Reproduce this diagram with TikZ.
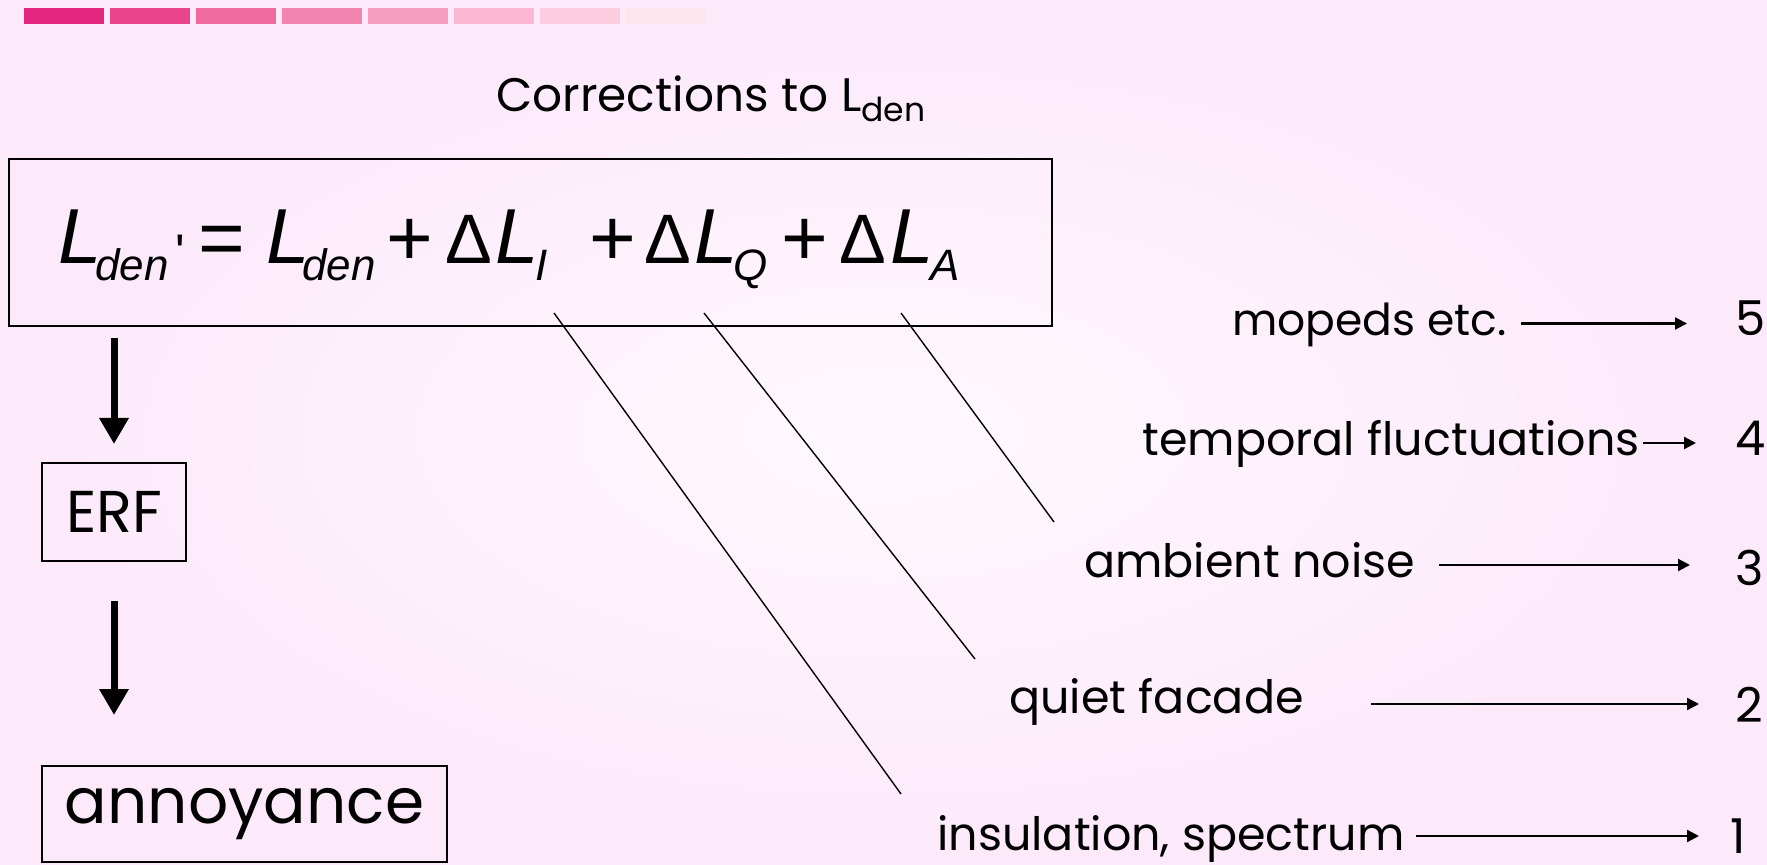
\documentclass[tikz,border=0pt]{standalone}
\usepackage{fontspec}
\setmainfont{Poppins}
\newfontfamily\eqf[Ligatures=TeXOff]{Liberation Sans}
\usetikzlibrary{arrows.meta}
\definecolor{bgin}{HTML}{FFF9FE}
\definecolor{bgout}{HTML}{FCE9FA}
\definecolor{bar1}{HTML}{E52680}
\definecolor{bar2}{HTML}{E9458B}
\definecolor{bar3}{HTML}{EE6A9F}
\definecolor{bar4}{HTML}{F285AF}
\definecolor{bar5}{HTML}{F59EBE}
\definecolor{bar6}{HTML}{F9B7D1}
\definecolor{bar7}{HTML}{FCCCE0}
\definecolor{bar8}{HTML}{FEE6EF}
\newcommand\pc[2]{\makebox[#1pt][l]{#2}}
\newcommand\sbs[1]{\raisebox{-8.5pt}{\fontsize{22}{24}\selectfont\itshape #1}}
\newcommand\op[1]{\raisebox{-0.8pt}{\fontsize{40}{44}\selectfont #1}}
\newcommand\dl{{\fontsize{35}{40}\selectfont Δ}}
\begin{document}
\begin{tikzpicture}[x=0.5pt,y=-0.5pt,
  box/.style={draw, line width=1pt, inner sep=0pt},
  bigarrow/.style={line width=3.5pt, -{Triangle[length=13pt,width=14pt]}},
  sarrow/.style={line width=1.1pt, -{Triangle[length=6pt,width=6pt]}},
  link/.style={line width=0.7pt},
  lab/.style={anchor=base west, inner sep=0pt, font=\fontsize{23}{26}\selectfont},
  num/.style={anchor=base west, inner sep=0pt, font=\fontsize{24}{28}\selectfont}]
\useasboundingbox (0,0) rectangle (1767,865);
\shade[inner color=bgin, outer color=bgout] (0,0) rectangle (1767,865);
% top bar
\foreach \i/\c in {0/bar1,1/bar2,2/bar3,3/bar4,4/bar5,5/bar6,6/bar7,7/bar8}
  \fill[\c] ({24+\i*86},8) rectangle ({104+\i*86},24);
% title
\node[anchor=base west, inner sep=0pt, font=\fontsize{23.5}{26}\selectfont] (title) at (496,112)
  {Corrections to L\raisebox{-5pt}{\fontsize{16.5}{18}\selectfont den}};
% equation box
\node[box, minimum width=521.5pt, minimum height=83.5pt] (eqbox) at (530.5,242.5) {};
\node[anchor=base west, inner sep=0pt, font=\eqf\fontsize{39}{42}\selectfont] (eq) at (58,264)
  {\pc{18.5}{\textit{L}}\pc{40}{\sbs{den}}\pc{11.5}{\raisebox{-3pt}{\fontsize{25}{26}\selectfont '}}\pc{34}{\op{=}}%
   \pc{18}{\textit{L}}\pc{42}{\sbs{den}}\pc{29.5}{\op{+}}\pc{25}{\dl}%
   \pc{20}{\textit{L}}\pc{27}{\sbs{I}}\pc{27.5}{\op{+}}\pc{25}{\dl}%
   \pc{19.5}{\textit{L}}\pc{24}{\sbs{Q}}\pc{29}{\op{+}}\pc{25.5}{\dl}%
   \pc{20}{\textit{L}}\sbs{A}};
% left chain
\node[box, minimum width=72pt, minimum height=49pt, font=\fontsize{29.5}{34}\selectfont] (erf) at (114,512) {ERF};
\node[box, minimum width=202.5pt, minimum height=48pt, font=\fontsize{31.5}{34}\selectfont] (ann) at (244.5,814) {annoyance};
\draw[bigarrow, shorten <=5.5pt, shorten >=9pt] (eqbox.south -| erf.north) -- (erf.north);
\draw[bigarrow, shorten <=19.5pt, shorten >=25pt] (erf.south) -- (erf.south |- ann.north);
% right labels
\node[lab, font=\fontsize{22}{26}\selectfont] (l5) at (1232,336) {mopeds etc.};
\node[lab] (l4) at (1142,456) {temporal fluctuations};
\node[lab] (l3) at (1084,578) {ambient noise};
\node[lab] (l2) at (1009,713) {quiet facade};
\node[lab] (l1) at (937,850) {insulation, spectrum};
\node[num] (n5) at (1735,336) {5};
\node[num] (n4) at (1735,456) {4};
\node[num] (n3) at (1735,586) {3};
\node[num] (n2) at (1735,722) {2};
\node[num] (n1) at (1730,853) {1};
\coordinate (a5s) at (1521,323.5); \coordinate (a5e) at (1687,323.5);
\coordinate (a4s) at (1643,443);   \coordinate (a4e) at (1696,443);
\coordinate (a3s) at (1439,565);   \coordinate (a3e) at (1690,565);
\coordinate (a2s) at (1371,704);   \coordinate (a2e) at (1699,704);
\coordinate (a1s) at (1416,836);   \coordinate (a1e) at (1699,836);
\draw[sarrow] (a5s) -- (a5e);
\draw[sarrow] (a4s) -- (a4e);
\draw[sarrow] (a3s) -- (a3e);
\draw[sarrow] (a2s) -- (a2e);
\draw[sarrow] (a1s) -- (a1e);
% links from the equation terms
\coordinate (tI) at (554,313); \coordinate (eI) at (901,794);
\coordinate (tQ) at (704,313); \coordinate (eQ) at (975,659);
\coordinate (tA) at (901,313); \coordinate (eA) at (1054,522);
\draw[link] (tI) -- (eI);
\draw[link] (tQ) -- (eQ);
\draw[link] (tA) -- (eA);
\end{tikzpicture}
\end{document}
